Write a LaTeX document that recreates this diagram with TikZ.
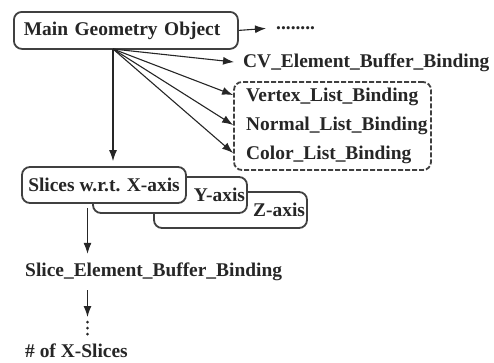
\documentclass[tikz,border=0pt]{standalone}
\usepackage{fontspec}
\setmainfont{Liberation Serif}
\usetikzlibrary{arrows.meta}
\begin{document}
\begin{tikzpicture}[x=1bp,y=-1bp,
  every node/.style={font=\fontsize{19.5}{23}\selectfont\bfseries, inner sep=0pt, text=black!85},
  rbox/.style={draw=black!75, line width=1.8bp, rounded corners=8bp, fill=white},
  dbox/.style={draw=black!75, line width=1.8bp, rounded corners=8bp, dash pattern=on 5bp off 2bp},
  arr/.style={-{Latex[length=11bp,width=8bp]}, line width=1.1bp, black!85},
  lbl/.style={anchor=west},
  vdot/.style={fill=black!85, draw=none}
]
\useasboundingbox (0,0) rectangle (494,362);

% main object
\node[rbox, anchor=north west, minimum height=37bp, text width=204bp, inner xsep=10bp, align=left] (main) at (13,11) {Main Geometry Object};
\coordinate (src) at (113,49);
\node[anchor=base west] (more) at (276,29) {........};
\draw[arr, shorten >=10bp] (main.east) -- (more.west);

% CV binding
\node[lbl] (cv) at (243,63) {CV\_Element\_Buffer\_Binding};
\draw[arr, shorten >=9bp] (src) -- (cv.west);

% dashed group
\node[dbox, minimum width=197bp, minimum height=88bp] (grp) at (332.5,126) {};
\node[lbl] (vx) at (246,97) {Vertex\_List\_Binding};
\node[lbl] (nm) at (246,126) {Normal\_List\_Binding};
\node[lbl] (cl) at (246,155) {Color\_List\_Binding};
\draw[arr] (src) -- (grp.west |- 0,95);
\draw[arr] (src) -- (grp.west |- 0,125);
\draw[arr] (src) -- (grp.west |- 0,153);

% slices
\node[rbox, minimum width=153bp, minimum height=36bp, text width=149bp, inner xsep=2bp, align=right] (zbox) at (230.5,210) {Z-axis};
\node[rbox, minimum width=154bp, minimum height=36bp, text width=150bp, inner xsep=2bp, align=right] (ybox) at (170,195) {Y-axis};
\node[rbox, minimum width=164bp, minimum height=36bp] (xbox) at (104,185) {Slices w.r.t. X-axis};
\draw[arr, shorten >=5bp] (src) -- (src |- xbox.north);

% slice element buffer
\coordinate (sx) at (87.5,0);
\node[lbl] (seb) at (25,272) {Slice\_Element\_Buffer\_Binding};
\draw[arr, shorten <=4bp, shorten >=9bp] (xbox.south -| sx) -- (seb.north -| sx);
\coordinate (vd) at (87.5,317);
\draw[arr, shorten <=9bp] (seb.south -| sx) -- (vd);
\fill[vdot] ([yshift=-5bp]vd) circle (1.5bp);
\fill[vdot] ([yshift=-11bp]vd) circle (1.5bp);
\fill[vdot] ([yshift=-17bp]vd) circle (1.5bp);
\node[lbl] (nx) at (25,351) {\# of X-Slices};
\end{tikzpicture}
\end{document}
